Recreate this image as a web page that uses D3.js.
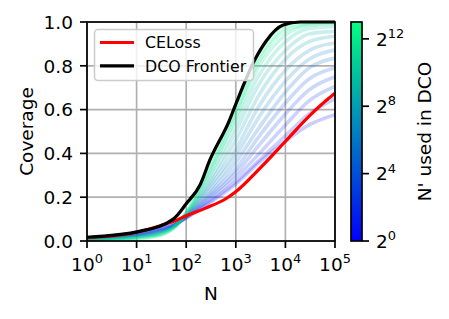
<!DOCTYPE html>
<html>
<head>
<meta charset="utf-8">
<script src="https://cdn.jsdelivr.net/npm/d3@7"></script>
<style>
  html, body { margin: 0; padding: 0; background: #fff; }
  svg { display: block; font-family: "DejaVu Sans", sans-serif; }
</style>
</head>
<body>
<svg id="chart" width="449" height="319"></svg>
<script>
// ---------------- data ----------------
const nGrid = [1, 3, 10, 30, 60, 100, 300, 1000, 3000, 10000, 30000, 100000];
const nPrimeExponents = [0,1,2,3,4,5,6,7,8,9,10,11,12,13];
const dco_p0  = [0.012,0.020,0.035,0.058,0.078,0.105,0.175,0.26,0.36,0.455,0.53,0.577];
const dco_p1  = [0.011,0.019,0.033,0.055,0.077,0.106,0.18,0.27,0.37,0.48,0.58,0.65];
const dco_p2  = [0.011,0.018,0.031,0.053,0.076,0.108,0.19,0.29,0.40,0.53,0.64,0.706];
const dco_p3  = [0.010,0.017,0.029,0.050,0.075,0.110,0.20,0.31,0.44,0.58,0.69,0.75];
const dco_p4  = [0.009,0.015,0.027,0.048,0.074,0.112,0.21,0.33,0.48,0.63,0.74,0.79];
const dco_p5  = [0.009,0.014,0.025,0.045,0.073,0.114,0.22,0.36,0.52,0.68,0.79,0.835];
const dco_p6  = [0.008,0.013,0.023,0.043,0.072,0.116,0.235,0.39,0.57,0.73,0.83,0.873];
const dco_p7  = [0.007,0.012,0.022,0.040,0.071,0.118,0.25,0.42,0.62,0.78,0.87,0.904];
const dco_p8  = [0.006,0.011,0.020,0.038,0.070,0.120,0.265,0.46,0.67,0.83,0.91,0.935];
const dco_p9  = [0.006,0.010,0.018,0.035,0.069,0.122,0.28,0.50,0.72,0.87,0.945,0.957];
const dco_p10 = [0.005,0.008,0.016,0.033,0.068,0.124,0.30,0.535,0.76,0.91,0.97,0.98];
const dco_p11 = [0.004,0.007,0.014,0.030,0.067,0.126,0.315,0.565,0.80,0.94,0.985,0.993];
const dco_p12 = [0.004,0.006,0.012,0.028,0.066,0.128,0.33,0.585,0.825,0.96,0.99,0.998];
const dco_p13 = [0.003,0.005,0.010,0.025,0.065,0.130,0.34,0.60,0.84,0.975,0.997,1.0];
const dcoSeries = [dco_p0,dco_p1,dco_p2,dco_p3,dco_p4,dco_p5,dco_p6,dco_p7,dco_p8,dco_p9,dco_p10,dco_p11,dco_p12,dco_p13];

const frontierN = [1, 12, 55, 100, 190, 300, 740, 1000, 2450, 4000, 9000, 20000, 100000];
const frontierCov = [0.017,0.045,0.10,0.17,0.256,0.37,0.55,0.625,0.83,0.91,0.986,1.0,1.0];

const celossN = [1, 10, 30, 56, 100, 240, 630, 1000, 3160, 10000, 31600, 68000, 100000];
const celossCov = [0.015,0.04,0.07,0.09,0.115,0.149,0.193,0.225,0.335,0.455,0.575,0.644,0.675];

const xTickExps = [0,1,2,3,4,5];
const yTicks = [0.0,0.2,0.4,0.6,0.8,1.0];
const cbTickExps = [0,4,8,12];
const legendLabels = ["CELoss", "DCO Frontier"];

// ---------------- layout ----------------
const svg = d3.select("#chart");
const L = 87, R = 335, T = 22, B = 241;
const FS = 18.5;      // ticks & axis labels
const LFS = 15.8;     // legend
const x = d3.scaleLog().domain([1, 1e5]).range([L, R]);
const y = d3.scaleLinear().domain([0, 1]).range([B, T]);
const cbScale = d3.scaleLog().base(2).domain([1, 8192]).range([B, T]);
const winter = t => d3.rgb(0, Math.round(255 * t), Math.round(255 - 127.5 * t));
const cFrac = d3.scaleLinear().domain([0, 13]).range([0, 1]);

// grid
const grid = svg.append("g");
xTickExps.forEach(e => {
  grid.append("line").attr("x1", x(Math.pow(10, e))).attr("x2", x(Math.pow(10, e)))
    .attr("y1", T).attr("y2", B).attr("stroke", "#b0b0b0").attr("stroke-width", 1.7);
});
yTicks.forEach(v => {
  grid.append("line").attr("x1", L).attr("x2", R).attr("y1", y(v)).attr("y2", y(v))
    .attr("stroke", "#b0b0b0").attr("stroke-width", 1.7);
});

// clip
svg.append("clipPath").attr("id", "clip").append("rect")
  .attr("x", L).attr("y", T - 2).attr("width", R - L).attr("height", B - T + 2);

const plot = svg.append("g").attr("clip-path", "url(#clip)");
const line = d3.line().x(d => x(d[0])).y(d => y(d[1])).curve(d3.curveMonotoneX);

dcoSeries.forEach((s, i) => {
  const pts = nGrid.map((n, j) => [n, s[j]]);
  plot.append("path").attr("d", line(pts)).attr("fill", "none")
    .attr("stroke", winter(cFrac(nPrimeExponents[i]))).attr("stroke-opacity", 0.2)
    .attr("stroke-width", 3.6).attr("stroke-linecap", "round");
});
plot.append("path").attr("d", line(celossN.map((n, j) => [n, celossCov[j]])))
  .attr("fill", "none").attr("stroke", "red").attr("stroke-width", 3.2);
plot.append("path").attr("d", line(frontierN.map((n, j) => [n, frontierCov[j]])))
  .attr("fill", "none").attr("stroke", "black").attr("stroke-width", 3.2);

// spines
svg.append("rect").attr("x", L).attr("y", T).attr("width", R - L).attr("height", B - T)
  .attr("fill", "none").attr("stroke", "black").attr("stroke-width", 1.7);

// x axis ticks
const xAxis = svg.append("g");
xTickExps.forEach(e => {
  const px = x(Math.pow(10, e));
  xAxis.append("line").attr("x1", px).attr("x2", px).attr("y1", B).attr("y2", B + 7)
    .attr("stroke", "black").attr("stroke-width", 1.7);
  const t = xAxis.append("text").attr("x", px).attr("y", B + 29.5)
    .attr("text-anchor", "middle").attr("font-size", FS).attr("fill", "black");
  t.append("tspan").text("10");
  t.append("tspan").attr("dy", -7.5).attr("font-size", FS * 0.7).text(String(e));
});
// y axis ticks
const yAxis = svg.append("g");
yTicks.forEach(v => {
  yAxis.append("line").attr("x1", L - 7).attr("x2", L).attr("y1", y(v)).attr("y2", y(v))
    .attr("stroke", "black").attr("stroke-width", 1.7);
  yAxis.append("text").attr("x", L - 14).attr("y", y(v) + 6.7)
    .attr("text-anchor", "end").attr("font-size", FS).text(d3.format(".1f")(v));
});

// axis labels
svg.append("text").attr("x", (L + R) / 2).attr("y", 300).attr("text-anchor", "middle")
  .attr("font-size", FS).text("N");
svg.append("text").attr("transform", `translate(33,${(T + B) / 2}) rotate(-90)`)
  .attr("text-anchor", "middle").attr("font-size", FS).text("Coverage");

// legend
const lg = svg.append("g");
lg.append("rect").attr("x", 94.5).attr("y", 29.5).attr("width", 159).attr("height", 51)
  .attr("rx", 3.5).attr("fill", "white").attr("fill-opacity", 0.8)
  .attr("stroke", "#cccccc").attr("stroke-width", 1.5);
const legendColors = ["red", "black"];
legendLabels.forEach((lab, i) => {
  const cy = 42.5 + i * 23.3;
  lg.append("line").attr("x1", 100).attr("x2", 134).attr("y1", cy).attr("y2", cy)
    .attr("stroke", legendColors[i]).attr("stroke-width", 3.2);
  lg.append("text").attr("x", 145).attr("y", cy + 5.8).attr("font-size", LFS).text(lab);
});

// colorbar
const cbL = 351, cbR = 362;
const defs = svg.append("defs");
const grad = defs.append("linearGradient").attr("id", "cbgrad")
  .attr("x1", 0).attr("y1", 1).attr("x2", 0).attr("y2", 0);
d3.range(0, 1.0001, 0.1).forEach(t => {
  grad.append("stop").attr("offset", t).attr("stop-color", winter(t));
});
svg.append("rect").attr("x", cbL).attr("y", T).attr("width", cbR - cbL).attr("height", B - T)
  .attr("fill", "url(#cbgrad)").attr("stroke", "black").attr("stroke-width", 1.7);
cbTickExps.forEach(e => {
  const py = cbScale(Math.pow(2, e));
  svg.append("line").attr("x1", cbR).attr("x2", cbR + 7).attr("y1", py).attr("y2", py)
    .attr("stroke", "black").attr("stroke-width", 1.7);
  const t = svg.append("text").attr("x", cbR + 14).attr("y", py + 6.7)
    .attr("font-size", FS).attr("fill", "black");
  t.append("tspan").text("2");
  t.append("tspan").attr("dy", -7.5).attr("font-size", FS * 0.7).text(String(e));
});
svg.append("text").attr("transform", `translate(431,${(T + B) / 2}) rotate(-90)`)
  .attr("text-anchor", "middle").attr("font-size", FS).text("N' used in DCO");
</script>
</body>
</html>
